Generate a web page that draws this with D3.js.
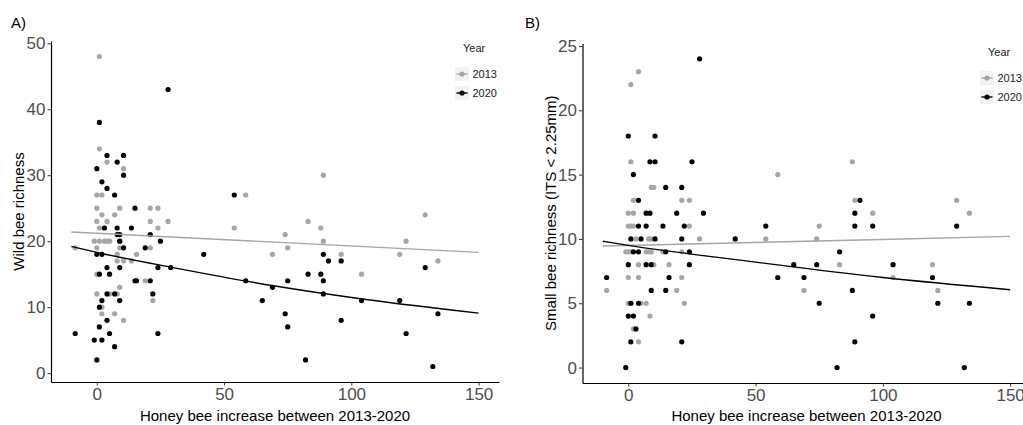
<!DOCTYPE html>
<html>
<head>
<meta charset="utf-8">
<script src="https://cdn.jsdelivr.net/npm/d3@7"></script>
<style>
  body { margin: 0; background: #fff; }
  svg { display: block; font-family: Arial, "Liberation Sans", sans-serif; }
</style>
</head>
<body>
<script>
var width = 1023;
var height = 425;

// Panel A: wild bee richness, [honey bee increase, richness]
var wild2013 = [
    [1, 48], [1, 34], [4, 32], [10.5, 31], [0, 27], [2, 27], [0, 25], [9, 25], [7, 24], [2, 24],
    [0, 23], [4, 23], [1, 22], [-1, 20], [1, 20], [3, 20], [4, 20], [5, 20], [9, 20], [0, 19],
    [-8.5, 19], [9, 19], [8, 18], [8, 17], [10.5, 17], [13.6, 17], [15.6, 18], [21, 25], [24, 25],
    [21, 23], [24, 22], [21, 19], [28, 23], [19, 14], [22, 11], [0, 15], [0, 12], [2, 10], [2, 9],
    [5, 12], [8, 12], [7, 9], [9, 13], [10.5, 8], [54, 22], [58.5, 27], [69, 18], [74, 21],
    [75, 19], [83, 23], [88, 22], [89, 30], [89, 20], [96, 18], [104, 15], [119, 18], [121.5, 20],
    [129, 24], [134, 17]
];
var wild2020 = [
    [28, 43], [1, 38], [4, 33], [10.5, 33], [8, 32], [0, 31], [10.5, 30], [2, 29], [4, 28], [7, 27],
    [15, 25], [3, 22], [8, 22], [13.6, 22], [8, 21], [9, 21], [21, 21], [25, 20], [9, 20], [10.5, 19],
    [19, 19], [0, 18], [2, 18], [42, 18], [54, 27], [4, 16], [9, 16], [24, 16], [29, 16], [1, 15],
    [5, 15], [15, 14], [15.6, 14], [21, 14], [58.5, 14], [4, 12], [7, 12], [22, 12], [2, 11], [9, 11],
    [1, 10], [4, 8], [1, 7], [-8.5, 6], [5, 6], [24, 6], [-1, 5], [2, 5], [7, 4], [0, 2],
    [65, 11], [69, 13], [74, 9], [75, 7], [75, 14], [82, 2], [83, 15], [88, 15], [89, 18], [89, 14],
    [89, 12], [91, 17], [96, 17], [96, 8], [104, 11], [119, 11], [121.5, 6], [129, 16], [132, 1], [134, 9]
];
var wildFit2013 = [[-10, 21.4], [70, 19.85], [150, 18.3]];
var wildFit2020 = [[-10, 19.2], [0, 18.3], [30, 16.0], [70, 13.2], [105, 11.2], [150, 9.1]];

// Panel B: small bee richness
var small2013 = [
    [4, 23], [1, 22], [1, 16], [9, 14], [10, 14], [2, 13], [0, 12], [2, 12], [0, 11], [1, 11],
    [2, 11], [3, 10], [8, 10], [9, 10], [-1, 9], [0, 9], [1, 9], [7, 9], [8, 9], [9, 9], [13.6, 9],
    [4, 8], [10, 8], [16, 8], [0, 7], [4, 7], [-8.5, 6], [19, 6], [0, 5], [1, 5], [5, 5], [7, 5],
    [8.5, 4], [2, 3], [4, 2], [21, 13], [24, 13], [24, 11], [21, 7], [22, 5], [21, 9], [28, 10],
    [54, 10], [58.7, 15], [69, 6], [74, 10], [75, 11], [83, 8], [88, 16], [89, 13], [96, 12],
    [104, 7], [119.5, 8], [121.6, 6], [129, 13], [134, 12]
];
var small2020 = [
    [28, 24], [0, 18], [10.5, 18], [8.5, 16], [10.5, 16], [25, 16], [2, 15], [14.7, 14], [21, 14],
    [4, 13], [7, 12], [8.5, 12], [19, 12], [29.5, 12], [4, 11], [7, 11], [13.6, 11], [22, 11],
    [1, 10], [5, 10], [10.5, 10], [21, 10], [42, 10], [54, 11], [2, 9], [4, 9], [14.7, 9], [24, 9],
    [0, 8], [7, 8], [9, 8], [24, 8], [-8.5, 7], [16, 7], [9, 6], [14.7, 6], [1, 5], [4, 5], [0, 4],
    [2, 4], [3, 3], [1, 2], [21, 2], [-1, 0], [58.7, 7], [65, 8], [69, 7], [74, 8], [75, 5], [82, 0],
    [83, 9], [88, 6], [89, 12], [89, 11], [89, 2], [91, 13], [96, 11], [96, 4], [104, 8], [119.5, 7],
    [121.6, 5], [129, 11], [132, 0], [134, 5]
];
var smallFit2013 = [[-10, 9.45], [70, 9.82], [150, 10.2]];
var smallFit2020 = [[-10, 9.82], [0, 9.5], [50, 8.2], [100, 7.0], [150, 6.05]];

var years = ["2013", "2020"];
var xTicks = [0, 50, 100, 150];
var yTicksA = [0, 10, 20, 30, 40, 50];
var yTicksB = [0, 5, 10, 15, 20, 25];

var color = d3.scaleOrdinal().domain(years).range(["#a6a6a6", "#000000"]);

var svg = d3.select("body").append("svg").attr("width", width).attr("height", height);

function panel(opt) {
    var g = svg.append("g");
    var x = d3.scaleLinear().domain([-18, 158]).range(opt.xRange);
    var y = d3.scaleLinear().domain(opt.yDomain).range([opt.yBottom, opt.yTop]);

    var xAxis = g.append("g")
        .attr("transform", "translate(0," + opt.yBottom + ")")
        .call(d3.axisBottom(x).tickValues(xTicks).tickSize(3.5).tickSizeOuter(0).tickPadding(2.5));
    var yAxis = g.append("g")
        .attr("transform", "translate(" + opt.xRange[0] + ",0)")
        .call(d3.axisLeft(y).tickValues(opt.yTicks).tickSize(3.5).tickSizeOuter(0).tickPadding(2));

    [xAxis, yAxis].forEach(function (a) {
        a.select(".domain").attr("stroke", "#000").attr("stroke-width", 1.2);
        a.selectAll(".tick line").attr("stroke", "#333");
        a.selectAll(".tick text").attr("fill", "#4d4d4d").style("font-size", "17px")
            .style("font-family", "Arial, 'Liberation Sans', sans-serif");
    });

    var sets = [[opt.pts[0], "2013"], [opt.pts[1], "2020"]];
    sets.forEach(function (s) {
        g.append("g").selectAll("circle")
            .data(s[0])
            .enter().append("circle")
            .attr("cx", function (d) { return x(d[0]); })
            .attr("cy", function (d) { return y(d[1]); })
            .attr("r", 2.6)
            .attr("fill", color(s[1]));
    });

    var line = d3.line()
        .x(function (d) { return x(d[0]); })
        .y(function (d) { return y(d[1]); })
        .curve(d3.curveMonotoneX);
    [[opt.fits[0], "2013"], [opt.fits[1], "2020"]].forEach(function (f) {
        g.append("path")
            .datum(f[0])
            .attr("d", line)
            .attr("fill", "none")
            .attr("stroke", color(f[1]))
            .attr("stroke-width", 1.4);
    });

    // axis titles
    g.append("text")
        .attr("x", (x(-18) + x(158)) / 2)
        .attr("y", 421)
        .attr("text-anchor", "middle")
        .style("font-size", "15px")
        .text("Honey bee increase between 2013-2020");
    g.append("text")
        .attr("transform", "translate(" + opt.yTitleX + "," + (opt.yTop + opt.yBottom) / 2 + ") rotate(-90)")
        .attr("text-anchor", "middle")
        .style("font-size", "15px")
        .text(opt.yTitle);

    g.append("text")
        .attr("x", opt.tagX).attr("y", 28)
        .style("font-size", "15px")
        .text(opt.tag);

    // legend
    var lg = g.append("g").attr("transform", "translate(" + opt.legX + "," + opt.legY + ")");
    lg.append("text").attr("x", 8).attr("y", 0).style("font-size", "11px").attr("fill", "#222").text("Year");
    years.forEach(function (yr, i) {
        var k = lg.append("g").attr("transform", "translate(0," + (15 + i * 19) + ")");
        k.append("rect").attr("width", 14).attr("height", 14).attr("fill", "#f2f2f2");
        k.append("line").attr("x1", 1.5).attr("x2", 12.5).attr("y1", 7).attr("y2", 7)
            .attr("stroke", color(yr)).attr("stroke-width", 1.4);
        k.append("circle").attr("cx", 7).attr("cy", 7).attr("r", 2.6).attr("fill", color(yr));
        k.append("text").attr("x", 17.5).attr("y", 11).style("font-size", "11px").attr("fill", "#222").text(yr);
    });
}

panel({
    xRange: [51, 499], yDomain: [-1.35, 50.35], yBottom: 382, yTop: 41, yTicks: yTicksA,
    pts: [wild2013, wild2020], fits: [wildFit2013, wildFit2020],
    yTitle: "Wild bee richness", yTitleX: 24,
    tag: "A)", tagX: 11, legX: 455, legY: 52
});
panel({
    xRange: [582.5, 1030.5], yDomain: [-1.2, 25.2], yBottom: 383, yTop: 43.4, yTicks: yTicksB,
    pts: [small2013, small2020], fits: [smallFit2013, smallFit2020],
    yTitle: "Small bee richness (ITS < 2.25mm)", yTitleX: 556,
    tag: "B)", tagX: 525, legX: 980, legY: 56
});
</script>
</body>
</html>
